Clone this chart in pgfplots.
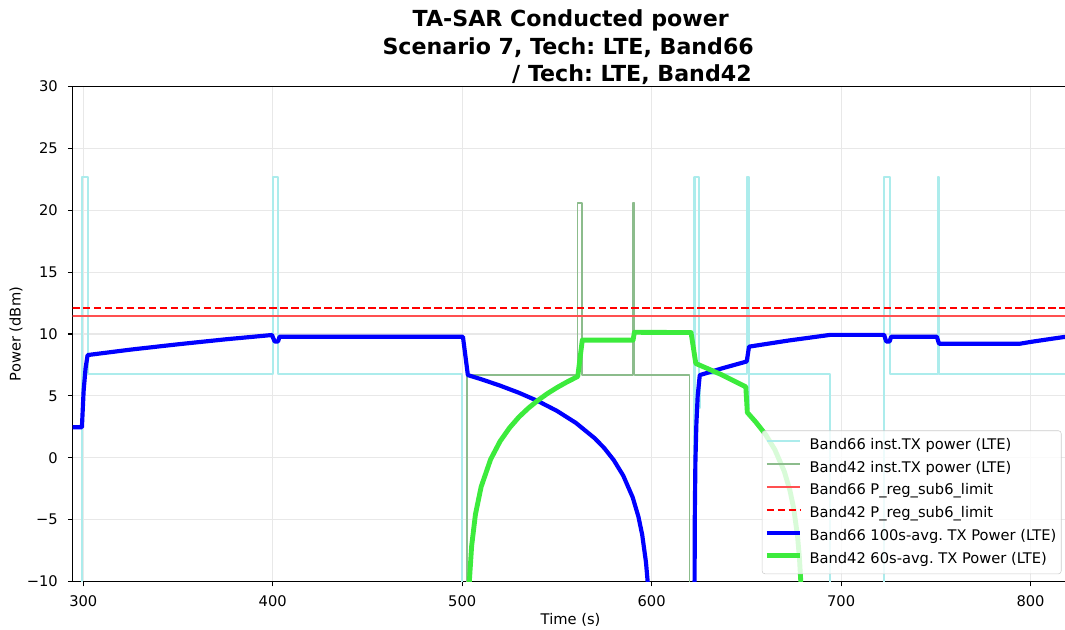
\documentclass[border=0pt]{standalone}
\usepackage{fontspec}
\setmainfont{DejaVu Sans}
\usepackage{pgfplots}
\pgfplotsset{compat=1.18}
\definecolor{cyanI}{RGB}{172,236,236}
\definecolor{greenI}{RGB}{140,188,140}
\definecolor{blueA}{RGB}{0,0,255}
\definecolor{greenA}{RGB}{60,235,60}
\definecolor{redS}{RGB}{255,80,80}
\frenchspacing
\begin{document}
\begin{tikzpicture}
\useasboundingbox (-52.3bp,-34.9bp) rectangle (714.5bp,418.7bp);
\begin{axis}[
  at={(0,0)}, anchor=south west,
  scale only axis, width=717bp, height=356.4bp,
  xmin=294.4, xmax=820, ymin=-10, ymax=30,
  xtick={300,400,500,600,700,800},
  ytick={-10,-5,0,5,10,15,20,25,30},
  yticklabels={−10,−5,0,5,10,15,20,25,30},
  /pgf/number format/assume math mode=true,
  tick align=outside, major tick length=3.5bp,
  tick style={black, line width=0.8bp},
  axis line style={black, line width=0.8bp},
  xtick pos=bottom, ytick pos=left,
  grid=major, major grid style={black!9, line width=0.8bp},
  ticklabel style={font=\fontsize{10.6}{12.7}\selectfont},
  xticklabel style={inner sep=0pt, anchor=north, yshift=-6.5bp},
  yticklabel style={inner sep=0pt, anchor=east, xshift=-7bp},
  xlabel={Time (s)}, ylabel={Power (dBm)},
  label style={font=\fontsize{10.6}{12.7}\selectfont},
  xlabel style={at={(axis description cs:0.5,-0.078)}, anchor=center},
  ylabel style={at={(axis description cs:-0.0569,0.5)}, anchor=center},
  legend cell align=left,
  legend style={at={(axis description cs:0.993,0.015)}, anchor=south east,
    draw=black!20, rounded corners=2pt, fill=white, fill opacity=0.8, text opacity=1,
    font=\fontsize{10.6}{12.7}\selectfont, inner xsep=1.6bp, inner ysep=2bp, row sep=0pt,
    column sep=3bp,
    nodes={inner ysep=0pt, inner xsep=2bp, text height=11.2bp, text depth=5.3bp}},
  legend image code/.code={\draw[#1] (0bp,2.9bp) -- (24bp,2.9bp);},
  line join=round,
]
\addplot[cyanI, line width=1.5bp] coordinates {
(294,-40)(299.3,-40)(299.3,22.7)(302.3,22.7)(302.3,6.8)(400,6.8)(400,22.7)(403,22.7)(403,6.8)
(500,6.8)(500,-40)(622.6,-40)(622.6,22.7)(625.1,22.7)(625.1,4.0)(625.3,4.0)(625.3,6.8)
(650.3,6.8)(650.3,22.7)(651.3,22.7)(651.3,4.0)(651.5,4.0)(651.5,6.8)(694.2,6.8)(694.2,-40)
(722.7,-40)(722.7,22.7)(725.9,22.7)(725.9,6.8)(751,6.8)(751,22.7)(751.5,22.7)(751.5,6.8)(820,6.8)
};
\addlegendentry{Band66 inst.TX power (LTE)}
\addplot[greenI, line width=1bp] coordinates {
(294,-40)(502.5,-40)(502.5,6.68)(561,6.68)(561,20.6)(563.3,20.6)(563.3,6.68)(590.2,6.68)
(590.2,20.6)(590.8,20.6)(590.8,6.68)(620,6.68)(620,-40)(820,-40)
};
\addlegendentry{Band42 inst.TX power (LTE)}
\addplot[redS, line width=1.2bp] coordinates {(294,11.45)(820,11.45)};
\addlegendentry{Band66 P\_reg\_sub6\_limit}
\addplot[red, line width=1.5bp, dash pattern=on 5.5bp off 2.4bp] coordinates {(294,12.13)(820,12.13)};
\addlegendentry{Band42 P\_reg\_sub6\_limit}
\addplot[blueA, line width=3bp] coordinates {
(294,2.47)(299.3,2.47)(300.2,5.4)(301.2,7.2)(302.3,8.3)(325,8.74)(350,9.17)(375,9.57)(399.6,9.92)
(401,9.4)(402.8,9.4)(403.6,9.78)(500.4,9.78)(503,6.68)(510,6.35)(520,5.83)(530,5.25)(540,4.58)
(550,3.79)(560,2.82)(570,1.57)(575,0.78)(580,-0.19)(585,-1.44)(590,-3.20)(593,-4.75)(595,-6.21)
(597,-8.43)(598,-10.19)(599,-13.2)(599.5,-40)(622.6,-40)(622.65,-10.3)(622.8,-4.3)(623.1,-0.3)
(623.6,2.7)(624.3,5.0)(625.4,6.68)(637.5,7.24)(649.7,7.76)(650.2,7.8)(651.4,8.98)(672.5,9.48)
(694.2,9.93)(722.7,9.93)(723.8,9.4)(725.6,9.4)(726.4,9.78)(750.5,9.78)(751.7,9.22)(794.5,9.22)
(800,9.36)(810,9.59)(820,9.81)
};
\addlegendentry{Band66 100s-avg. TX Power (LTE)}
\addplot[greenA, line width=3.5bp] coordinates {
(294,-40)(502.5,-40)(503,-14.1)(503.8,-9.96)(505,-7.12)(507,-4.57)(510,-2.35)(515,-0.13)
(520,1.33)(525,2.42)(530,3.30)(535,4.02)(540,4.64)(545,5.19)(550,5.67)(555,6.10)(561,6.57)
(563.4,9.51)(590.2,9.51)(590.9,10.14)(620.8,10.12)(623.3,7.62)(636.5,6.74)(649.7,5.73)
(650.5,3.66)(655,2.88)(660,1.91)(665,0.66)(670,-1.10)(673,-2.65)(675,-4.11)(677,-6.33)
(678,-8.09)(678.7,-9.96)(679.3,-12.7)(680,-40)(820,-40)
};
\addlegendentry{Band42 60s-avg. TX Power (LTE)}
\end{axis}
\node[anchor=base, inner sep=0pt, font=\bfseries\fontsize{16}{19}\selectfont] at (358.6bp,399.5bp) {TA-SAR Conducted power};
\node[anchor=base, inner sep=0pt, font=\bfseries\fontsize{16}{19}\selectfont] at (356.8bp,379.6bp) {Scenario 7, Tech: LTE, Band66};
\node[anchor=base east, inner sep=0pt, font=\bfseries\fontsize{16}{19}\selectfont] at (489.1bp,359.9bp) {/ Tech: LTE, Band42};
\end{tikzpicture}
\end{document}
